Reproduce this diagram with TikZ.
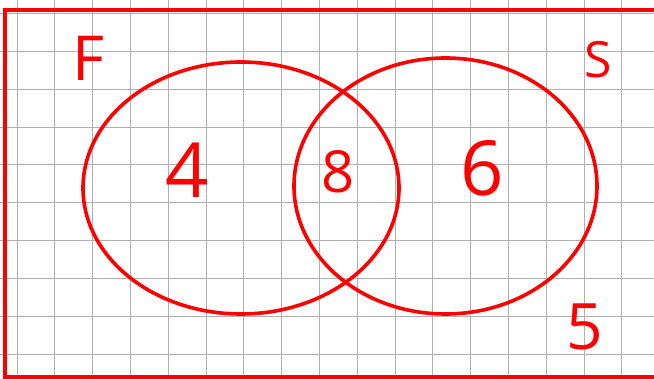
\documentclass[tikz,border=0pt]{standalone}
\usepackage{fontspec}
\setmainfont{Open Sans}
\definecolor{penred}{rgb}{1,0,0}
\definecolor{gridgray}{rgb}{0.69,0.69,0.69}

\begin{document}
\begin{tikzpicture}[x=1pt, y=-1pt, line cap=round]
  \tikzset{pen/.style={draw=penred, line width=3.6pt},
           hand/.style={text=penred, inner sep=0pt}}
  \useasboundingbox (0,0) rectangle (654,379);
  % grid paper
  \foreach \i in {0,...,17} \draw[gridgray, line width=0.9pt] (17+37.8*\i,0)--(17+37.8*\i,379);
  \foreach \j in {0,...,9} \draw[gridgray, line width=0.9pt] (0,13.5+37.85*\j)--(654,13.5+37.85*\j);
  % frame
  \draw[penred, line width=4pt, line cap=butt] (656,10)--(5,10)--(5,377.5)--(656,377.5);
  % the two sets
  \draw[pen] (241,188) ellipse [x radius=158, y radius=126];
  \draw[pen] (445.5,186) ellipse [x radius=151.5, y radius=128];
  % labels
  \node[hand, font=\fontsize{62}{62}\selectfont] (setF) at (88,58) {F};
  \node[hand, font=\fontsize{50}{50}\selectfont] (setS) at (598,60) {S};
  \node[hand, font=\fontsize{76}{76}\selectfont] (onlyF) at (187,170) {4};
  \node[hand, font=\fontsize{58}{58}\selectfont] (both) at (338,172) {8};
  \node[hand, font=\fontsize{76}{76}\selectfont] (onlyS) at (482,168) {6};
  \node[hand, font=\fontsize{64}{64}\selectfont] (neither) at (585,327) {5};
\end{tikzpicture}
\end{document}
